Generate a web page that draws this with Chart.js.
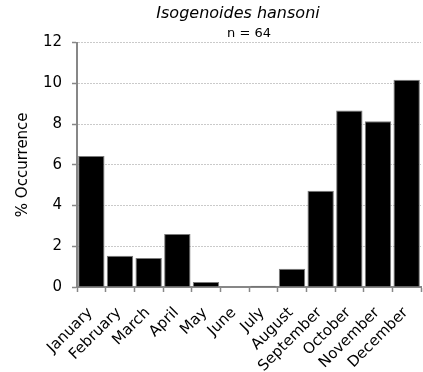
<!DOCTYPE html>
<html>
<head>
<meta charset="utf-8">
<title>Isogenoides hansoni</title>
<script src="https://cdn.jsdelivr.net/npm/chart.js@4/dist/chart.umd.min.js"></script>
<style>
    html, body { margin: 0; padding: 0; background: #fff; }
    #wrap { width: 423px; height: 372px; }
</style>
</head>
<body>
<div id="wrap">
    <canvas id="myChart" width="423" height="372"></canvas>
</div>
<script>
// months along the x axis
const months = ['January', 'February', 'March', 'April', 'May', 'June',
    'July', 'August', 'September', 'October', 'November', 'December'];

// % occurrence per month
const occurrence = [6.43, 1.53, 1.42, 2.6, 0.25, 0, 0.06, 0.89, 4.73, 8.67, 8.14, 10.17];

// y axis ticks
const yTicks = [0, 2, 4, 6, 8, 10, 12];

const chartTitle = 'Isogenoides hansoni';
const chartSubtitle = 'n = 64';
const yLabel = '% Occurrence';

const axisGray = '#878787';
const fontName = '"DejaVu Sans", Verdana, sans-serif';

// the species name sits a little left of the plot centre, so draw it ourselves
const speciesTitle = {
    id: 'speciesTitle',
    afterDraw(chart) {
        let ctx = chart.ctx;
        ctx.save();
        ctx.fillStyle = '#000';
        ctx.font = 'italic 16px ' + fontName;
        ctx.textAlign = 'center';
        ctx.textBaseline = 'alphabetic';
        ctx.fillText(chartTitle, 238, 18);
        ctx.restore();
    }
};

function drawOccurrenceChart() {
    let ctx = document.getElementById('myChart').getContext('2d');

    new Chart(ctx, {
        type: 'bar',
        data: {
            labels: months,
            datasets: [{
                label: yLabel,
                data: occurrence,
                backgroundColor: '#000000',
                borderColor: '#7a7a7a',
                borderWidth: 1,
                barPercentage: 0.92,
                categoryPercentage: 1.0
            }]
        },
        plugins: [speciesTitle],
        options: {
            responsive: false,
            animation: false,
            layout: {
                padding: { left: 0, right: 2, top: 21, bottom: 0 }
            },
            plugins: {
                legend: { display: false },
                tooltip: { enabled: false },
                title: { display: false },
                subtitle: {
                    display: true,
                    text: chartSubtitle,
                    fullSize: false,
                    color: '#000',
                    font: { family: fontName, size: 13, weight: 'normal' },
                    padding: { top: 5, bottom: 1 }
                }
            },
            scales: {
                x: {
                    offset: true,
                    afterFit: function(scale) {
                        scale.height = 85;
                        scale.paddingLeft = 0;
                        scale.paddingRight = 0;
                    },
                    grid: {
                        offset: true,
                        drawOnChartArea: false,
                        tickLength: 5,
                        tickWidth: 1.5,
                        tickColor: axisGray,
                        color: axisGray
                    },
                    border: { color: axisGray, width: 2 },
                    ticks: {
                        color: '#000',
                        minRotation: 45,
                        maxRotation: 45,
                        autoSkip: false,
                        padding: 12,
                        labelOffset: -1,
                        font: { family: fontName, size: 15 }
                    }
                },
                y: {
                    min: 0,
                    max: 12,
                    afterFit: function(scale) { scale.width = 77; },
                    afterBuildTicks: function(scale) {
                        scale.ticks = yTicks.map(v => ({ value: v }));
                    },
                    grid: {
                        color: '#cacaca',
                        tickColor: axisGray,
                        tickLength: 5,
                        tickWidth: 1.5,
                        tickBorderDash: []
                    },
                    border: { color: axisGray, width: 2, dash: [2, 1] },
                    ticks: {
                        color: '#000',
                        padding: 10,
                        font: { family: fontName, size: 15 }
                    },
                    title: {
                        display: true,
                        text: yLabel,
                        color: '#000',
                        font: { family: fontName, size: 15 },
                        padding: { top: 14, bottom: 0 }
                    }
                }
            }
        }
    });
}

document.addEventListener('DOMContentLoaded', function() {
    drawOccurrenceChart();
});
</script>
</body>
</html>
